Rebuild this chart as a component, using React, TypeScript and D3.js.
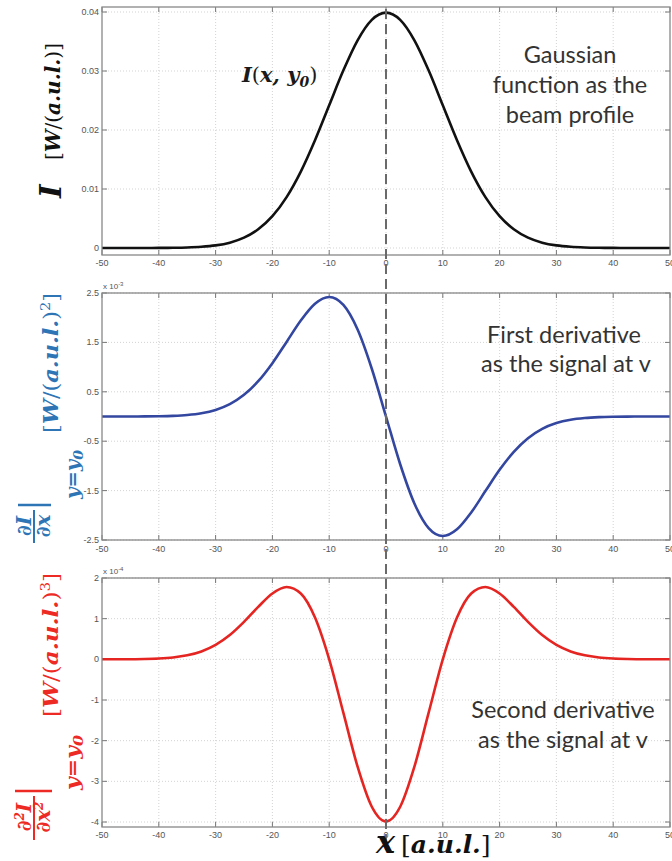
import React from 'react';
import * as d3 from 'd3';

// x positions (a.u.l.)
const xValues = [
  -50, -47.5, -45, -42.5, -40, -37.5, -35, -32.5, -30, -27.5, -25, -22.5, -20, -17.5, -15, -12.5, -10, -7.5, -5, -2.5,
  0, 2.5, 5, 7.5, 10, 12.5, 15, 17.5, 20, 22.5, 25, 27.5, 30, 32.5, 35, 37.5, 40, 42.5, 45, 47.5, 50,
];

// Gaussian beam profile I(x, y0)
const intensity = [
  0.0000001, 0.0000005, 0.0000016, 0.0000048, 0.0000134, 0.0000353, 0.0000873, 0.000203, 0.000443, 0.000909,
  0.001753, 0.003174, 0.005399, 0.008628, 0.012952, 0.018265, 0.024197, 0.030114, 0.035207, 0.038667,
  0.039894,
  0.038667, 0.035207, 0.030114, 0.024197, 0.018265, 0.012952, 0.008628, 0.005399, 0.003174, 0.001753,
  0.000909, 0.000443, 0.000203, 0.0000873, 0.0000353, 0.0000134, 0.0000048, 0.0000016, 0.0000005, 0.0000001,
];

// first derivative (x 10^-3)
const firstDerivative = [
  0.0001, 0.0002, 0.0007, 0.002, 0.0054, 0.0132, 0.0306, 0.066, 0.1329, 0.25,
  0.4383, 0.7142, 1.0798, 1.5099, 1.9428, 2.2831, 2.4197, 2.2586, 1.7604, 0.9667,
  0,
  -0.9667, -1.7604, -2.2586, -2.4197, -2.2831, -1.9428, -1.5099, -1.0798, -0.7142, -0.4383,
  -0.25, -0.1329, -0.066, -0.0306, -0.0132, -0.0054, -0.002, -0.0007, -0.0002, -0.0001,
];

// second derivative (x 10^-4)
const secondDerivative = [
  0.0004, 0.0011, 0.0031, 0.0082, 0.0201, 0.0461, 0.0982, 0.1941, 0.3544, 0.5965,
  0.9203, 1.2894, 1.6197, 1.7795, 1.619, 1.0274, 0, -1.3175, -2.6405, -3.625,
  -3.9894,
  -3.625, -2.6405, -1.3175, 0, 1.0274, 1.619, 1.7795, 1.6197, 1.2894, 0.9203,
  0.5965, 0.3544, 0.1941, 0.0982, 0.0461, 0.0201, 0.0082, 0.0031, 0.0011, 0.0004,
];

const xTicks = [-50, -40, -30, -20, -10, 0, 10, 20, 30, 40, 50];
const xTickLabels = ['-50', '-40', '-30', '-20', '-10', '0', '10', '20', '30', '40', '50'];

const yTicks1 = [0, 0.01, 0.02, 0.03, 0.04];
const yTickLabels1 = ['0', '0.01', '0.02', '0.03', '0.04'];
const yTicks2 = [2.5, 1.5, 0.5, -0.5, -1.5, -2.5];
const yTickLabels2 = ['2.5', '1.5', '0.5', '-0.5', '-1.5', '-2.5'];
const yTicks3 = [2, 1, 0, -1, -2, -3, -4];
const yTickLabels3 = ['2', '1', '0', '-1', '-2', '-3', '-4'];

const TICK_FONT = '"Liberation Sans Narrow", "Liberation Sans", Arial, sans-serif';
const MATH_FONT = '"DejaVu Serif", "Liberation Serif", serif';
const NOTE_FONT = 'Lato, "Open Sans", sans-serif';

const x = d3.scaleLinear().domain([-50, 50]).range([102, 670]);

type PanelProps = {
  y: d3.ScaleLinear<number, number>;
  top: number;
  bottom: number;
  yTicks: number[];
  yLabels: string[];
  values: number[];
  color: string;
  exponent?: string;
  xLabelY: number;
};

function Panel({ y, top, bottom, yTicks, yLabels, values, color, exponent, xLabelY }: PanelProps) {
  const left = x(-50);
  const right = x(50);
  const line = d3
    .line<number>()
    .x((_, i) => x(xValues[i]))
    .y((d) => y(d))
    .curve(d3.curveMonotoneX);
  return (
    <g>
      <rect x={left} y={top} width={right - left} height={bottom - top} fill="#fff" />
      {xTicks.slice(1, -1).map((t) => (
        <line key={'gx' + t} x1={x(t)} x2={x(t)} y1={top} y2={bottom} stroke="#c8c8c8" strokeWidth={0.8} strokeDasharray="1,2" />
      ))}
      {yTicks.map((t) => (
        <line key={'gy' + t} x1={left} x2={right} y1={y(t)} y2={y(t)} stroke="#c8c8c8" strokeWidth={0.8} strokeDasharray="1,2" />
      ))}
      {xTicks.map((t, i) => (
        <g key={'tx' + t}>
          <line x1={x(t)} x2={x(t)} y1={bottom} y2={bottom - 5} stroke="#777" strokeWidth={1} />
          <line x1={x(t)} x2={x(t)} y1={top} y2={top + 5} stroke="#777" strokeWidth={1} />
          <text x={x(t)} y={xLabelY} textAnchor="middle" fontFamily={TICK_FONT} fontSize={9} fill="#555">
            {xTickLabels[i]}
          </text>
        </g>
      ))}
      {yTicks.map((t, i) => (
        <g key={'ty' + t}>
          <line x1={left} x2={left + 5} y1={y(t)} y2={y(t)} stroke="#777" strokeWidth={1} />
          <line x1={right} x2={right - 5} y1={y(t)} y2={y(t)} stroke="#777" strokeWidth={1} />
          <text x={left - 3} y={y(t) + 3} textAnchor="end" fontFamily={TICK_FONT} fontSize={9} fill="#555">
            {yLabels[i]}
          </text>
        </g>
      ))}
      {exponent && (
        <text x={left + 1} y={top - 4} fontFamily={TICK_FONT} fontSize={8} fill="#555">
          {'x 10'}
          <tspan dy={-3} fontSize={6}>
            {exponent}
          </tspan>
        </text>
      )}
      <path d={line(values) || ''} fill="none" stroke={color} strokeWidth={2.6} />
      <rect x={left} y={top} width={right - left} height={bottom - top} fill="none" stroke="#888" strokeWidth={1.3} />
    </g>
  );
}

function Unit({ power }: { power?: string }) {
  return (
    <>
      <tspan fontStyle="normal" fontWeight="normal">[</tspan>
      <tspan fontStyle="italic" fontWeight="bold">W</tspan>
      <tspan fontStyle="normal" fontWeight="normal">/(</tspan>
      <tspan fontStyle="italic" fontWeight="bold">a.u.l.</tspan>
      <tspan fontStyle="normal" fontWeight="normal">)</tspan>
      {power && (
        <tspan dy={-8} fontSize="0.65em" fontStyle="normal">
          {power}
        </tspan>
      )}
      <tspan dy={power ? 8 : 0} fontStyle="normal" fontWeight="normal">]</tspan>
    </>
  );
}

const rot = (gx: number, gy: number) => `translate(${gx},${gy}) rotate(-90)`;

export default function App() {
  const W = 672;
  const H = 861;
  const y1 = d3.scaleLinear().domain([0, 0.04]).range([248, 12]);
  const y2 = d3.scaleLinear().domain([-2.5, 2.5]).range([540, 293]);
  const y3 = d3.scaleLinear().domain([-4, 2]).range([822, 578]);
  const blueText = '#2e75b6';
  const redText = '#ee2a24';

  return (
    <svg width={W} height={H} style={{ position: 'absolute', left: 0, top: 0, background: '#fff' }}>
      <rect width={W} height={H} fill="#fff" />
      <Panel y={y1} top={7} bottom={255} yTicks={yTicks1} yLabels={yTickLabels1} values={intensity} color="#111" xLabelY={266} />
      <Panel y={y2} top={293} bottom={540} yTicks={yTicks2} yLabels={yTickLabels2} values={firstDerivative} color="#3346a0" exponent="-3" xLabelY={552} />
      <Panel y={y3} top={578} bottom={827} yTicks={yTicks3} yLabels={yTickLabels3} values={secondDerivative} color="#e52521" exponent="-4" xLabelY={838} />

      <line x1={x(0)} x2={x(0)} y1={9} y2={850} stroke="#6a6a6a" strokeWidth={2} strokeDasharray="10,5" />

      <text x={x(0) - 144} y={82} fontFamily={MATH_FONT} fontSize={21} fontWeight="bold" fontStyle="italic" fill="#1a1a1a">
        I<tspan fontStyle="normal" fontWeight="normal">(</tspan>x, y
        <tspan dy={5} fontSize={14}>0</tspan>
        <tspan dy={-5} fontStyle="normal" fontWeight="normal">)</tspan>
      </text>

      <g fontFamily={NOTE_FONT} fontSize={23.5} fill="#333" textAnchor="middle">
        <text x={570} y={63}>Gaussian</text>
        <text x={570} y={93}>function as the</text>
        <text x={570} y={123}>beam profile</text>
        <text x={564} y={343}>First derivative</text>
        <text x={566} y={372}>as the signal at v</text>
        <text x={563} y={718}>Second derivative</text>
        <text x={563} y={748}>as the signal at v</text>
      </g>

      <g fill="#111" fontFamily={MATH_FONT}>
        <text transform={rot(61, 198)} fontSize={29} fontWeight="bold" fontStyle="italic">I</text>
        <text transform={rot(60, 160)} fontSize={21} textLength={117} lengthAdjust="spacingAndGlyphs">
          <Unit />
        </text>
      </g>

      <g fill={blueText} fontFamily={MATH_FONT}>
        <text transform={rot(58, 433)} fontSize={21} textLength={140} lengthAdjust="spacingAndGlyphs">
          <Unit power="2" />
        </text>
        <text transform={rot(79, 499)} fontSize={18} fontWeight="bold" fontStyle="italic" textLength={49} lengthAdjust="spacingAndGlyphs">
          y=y<tspan dy={4} fontSize={13}>0</tspan>
        </text>
        <line x1={18} x2={51} y1={505} y2={505} stroke={blueText} strokeWidth={2.5} />
        <text transform={rot(31, 526)} fontSize={20} fontWeight="bold" fontStyle="italic" textAnchor="middle">∂I</text>
        <line x1={34} x2={34} y1={510} y2={543} stroke={blueText} strokeWidth={2} />
        <text transform={rot(50, 526)} fontSize={20} fontWeight="bold" fontStyle="italic" textAnchor="middle">∂x</text>
      </g>

      <g fill={redText} fontFamily={MATH_FONT}>
        <text transform={rot(58, 717)} fontSize={21} textLength={144} lengthAdjust="spacingAndGlyphs">
          <Unit power="3" />
        </text>
        <text transform={rot(79, 790)} fontSize={18} fontWeight="bold" fontStyle="italic" textLength={55} lengthAdjust="spacingAndGlyphs">
          y=y<tspan dy={4} fontSize={13}>0</tspan>
        </text>
        <line x1={15} x2={52} y1={791} y2={791} stroke={redText} strokeWidth={2.5} />
        <text transform={rot(31, 817)} fontSize={20} fontWeight="bold" fontStyle="italic" textAnchor="middle">
          ∂<tspan dy={-7} fontSize={12}>2</tspan><tspan dy={7}>I</tspan>
        </text>
        <line x1={34} x2={34} y1={796} y2={840} stroke={redText} strokeWidth={2} />
        <text transform={rot(50, 817)} fontSize={20} fontWeight="bold" fontStyle="italic" textAnchor="middle">
          ∂x<tspan dy={-7} fontSize={12}>2</tspan>
        </text>
      </g>

      <text x={376} y={853} fontFamily={MATH_FONT} fill="#111">
        <tspan fontSize={32} fontWeight="bold" fontStyle="italic">x</tspan>
        <tspan fontSize={25} dx={6}>[</tspan>
        <tspan fontSize={25} fontWeight="bold" fontStyle="italic">a.u.l.</tspan>
        <tspan fontSize={25}>]</tspan>
      </text>
    </svg>
  );
}
